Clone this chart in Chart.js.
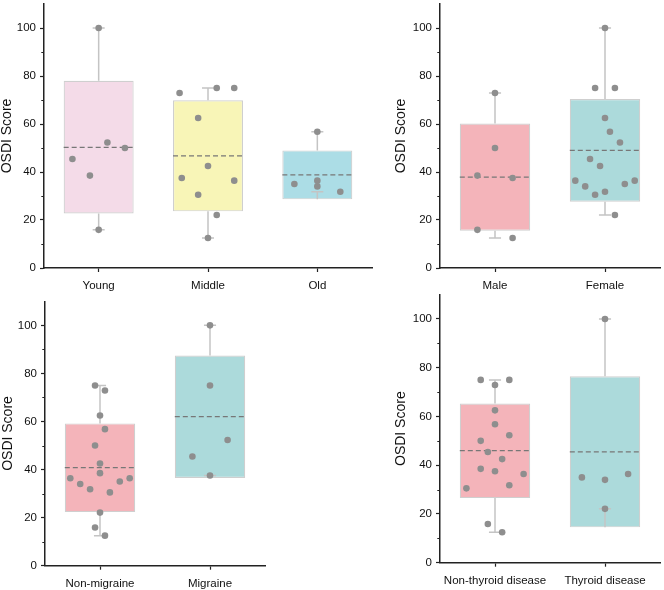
<!DOCTYPE html>
<html>
<head>
<meta charset="utf-8">
<script src="https://cdn.jsdelivr.net/npm/chart.js@4.4.1/dist/chart.umd.min.js"></script>
<style>
  html, body { margin: 0; padding: 0; background: #fff; }
  #wrap { position: relative; width: 664px; height: 590px; }
  canvas { position: absolute; }
</style>
</head>
<body>
<div id="wrap">
  <canvas id="c1" width="376" height="295" style="left:0;top:0"></canvas>
  <canvas id="c2" width="288" height="295" style="left:376px;top:0"></canvas>
  <canvas id="c3" width="376" height="300" style="left:0;top:290px"></canvas>
  <canvas id="c4" width="288" height="300" style="left:376px;top:290px"></canvas>
</div>
<script>
const yTicks = [0, 20, 40, 60, 80, 100];
const yMinor = [10, 30, 50, 70, 90];

// age groups
const ageGroups = ['Young', 'Middle', 'Old'];
const ageQ1 = [22.7, 23.6, 28.6];
const ageQ3 = [78.0, 69.9, 49.0];
const ageMean = [50.3, 46.7, 38.8];
const ageMin = [15.9, 12.5, 31.8];
const ageMax = [100, 75.0, 56.8];
const ageX = [0, -0.24, -0.08, 0.08, 0.24, 0, 0.74, 1.08, 1.24, 0.91, 0.76, 1.00, 0.91, 1.24, 1.08, 1.00, 1.79, 2.00, 2.00, 2.00, 2.21];
const ageY = [100, 45.4, 38.5, 52.3, 50.0, 15.9, 72.9, 75.0, 75.0, 62.5, 37.5, 42.5, 30.5, 36.4, 22.1, 12.5, 35.0, 36.4, 34.0, 56.8, 31.8];

// sex
const sexGroups = ['Male', 'Female'];
const sexQ1 = [15.5, 27.6];
const sexQ3 = [60.2, 70.4];
const sexMean = [37.9, 49.0];
const sexMin = [12.5, 22.1];
const sexMax = [72.9, 100];
const sexX = [0, 0, -0.16, 0.16, -0.16, 0.16, 1, 0.91, 1.09, 1, 1.045, 1.136, 0.864, 0.955, 0.73, 0.82, 0.91, 1, 1.18, 1.27, 1.09];
const sexY = [72.9, 50, 38.5, 37.5, 15.9, 12.5, 100, 75, 75, 62.5, 56.8, 52.3, 45.4, 42.5, 36.4, 34, 30.5, 31.8, 35, 36.4, 22.1];

// migraine
const migGroups = ['Non-migraine', 'Migraine'];
const migQ1 = [22.3, 36.5];
const migQ3 = [59.2, 87.4];
const migMean = [40.8, 62.0];
const migMin = [12.5, 37.5];
const migMax = [75, 100];
const migX = [-0.045, 0.045, 0, 0.045, -0.045, 0, 0, -0.27, -0.18, -0.09, 0.09, 0.18, 0.27, 0, -0.045, 0.045, 1, 1, 1.16, 0.84, 1];
const migY = [75, 72.9, 62.5, 56.8, 50, 42.5, 38.5, 36.4, 34, 31.8, 30.5, 35, 36.4, 22.1, 15.9, 12.5, 100, 75, 52.3, 45.4, 37.5];

// thyroid
const thyGroups = ['Non-thyroid disease', 'Thyroid disease'];
const thyQ1 = [26.5, 14.5];
const thyQ3 = [65.3, 76.5];
const thyMean = [46.0, 45.5];
const thyMin = [12.5, 22.1];
const thyMax = [75, 100];
const thyX = [-0.13, 0.13, 0, 0, 0, -0.13, 0.13, -0.065, 0.065, -0.13, 0, 0.26, 0.13, -0.26, -0.065, 0.065, 1, 0.79, 1, 1.21, 1];
const thyY = [75, 75, 72.9, 62.5, 56.8, 50, 52.3, 45.4, 42.5, 38.5, 37.5, 36.4, 31.8, 30.5, 15.9, 12.5, 100, 35, 34, 36.4, 22.1];

const pink = '#f4b4ba', teal = '#acdadb';
const font = "'Liberation Sans', Arial, sans-serif";

const minorTicks = {
  id: 'minorTicks',
  afterDraw(chart) {
    const s = chart.scales.y, ctx = chart.ctx;
    ctx.save();
    ctx.strokeStyle = '#222';
    ctx.lineWidth = 1;
    yMinor.forEach(v => {
      const y = Math.round(s.getPixelForValue(v)) + 0.5;
      ctx.beginPath();
      ctx.moveTo(s.right - 2.7, y);
      ctx.lineTo(s.right, y);
      ctx.stroke();
    });
    ctx.restore();
  }
};

function makeChart(id, groups, q1, q3, mean, lo, hi, px, py, colors, lay) {
  const cap = 0.055, half = 0.32;
  const whisk = [], means = [];
  groups.forEach((g, i) => {
    whisk.push({x: i, y: q3[i]}, {x: i, y: hi[i]}, {x: i, y: null});
    whisk.push({x: i - cap, y: hi[i]}, {x: i + cap, y: hi[i]}, {x: i, y: null});
    whisk.push({x: i, y: q1[i]}, {x: i, y: lo[i]}, {x: i, y: null});
    whisk.push({x: i - cap, y: lo[i]}, {x: i + cap, y: lo[i]}, {x: i, y: null});
    means.push({x: i - half, y: mean[i]}, {x: i + half, y: mean[i]}, {x: i, y: null});
  });

  new Chart(document.getElementById(id), {
    type: 'scatter',
    data: {
      datasets: [
        {
          type: 'bar',
          data: groups.map((g, i) => ({x: i, y: [q1[i], q3[i]]})),
          backgroundColor: colors,
          borderColor: '#cfcfcf',
          borderWidth: 1.2,
          borderSkipped: false,
          categoryPercentage: 1,
          barPercentage: 0.64,
          order: 4
        },
        {
          data: whisk,
          showLine: true,
          spanGaps: false,
          borderColor: '#c4c4c4',
          borderWidth: 1.5,
          pointRadius: 0,
          order: 3
        },
        {
          data: means,
          showLine: true,
          spanGaps: false,
          borderColor: '#777',
          borderWidth: 1.2,
          borderDash: [5, 3],
          pointRadius: 0,
          order: 2
        },
        {
          data: px.map((x, i) => ({x: x, y: py[i]})),
          backgroundColor: '#8e8e8e',
          borderWidth: 0,
          pointRadius: 3.3,
          order: 1
        }
      ]
    },
    options: {
      responsive: false,
      animation: false,
      layout: {padding: lay.pad},
      plugins: {legend: {display: false}, tooltip: {enabled: false}},
      scales: {
        x: {
          type: 'linear',
          offset: false,
          min: -0.5,
          max: groups.length - 0.5,
          afterBuildTicks: s => { s.ticks = groups.map((g, i) => ({value: i})); },
          afterFit: s => { s.height = lay.xh; s.paddingLeft = 0; s.paddingRight = 0; },
          ticks: {
            callback: v => groups[v],
            font: {family: font, size: 11.5},
            color: '#111',
            padding: 7,
            maxRotation: 0,
            autoSkip: false
          },
          grid: {offset: false, drawOnChartArea: false, tickLength: 4, tickColor: '#222', tickWidth: 1.2},
          border: {color: '#222', width: 1.5}
        },
        y: {
          min: 0,
          max: 110,
          afterBuildTicks: s => { s.ticks = yTicks.map(v => ({value: v})); },
          afterFit: s => { s.width = lay.yw; s.paddingTop = 0; s.paddingBottom = 0; },
          ticks: {
            font: {family: font, size: 11.5},
            color: '#111',
            padding: 4
          },
          title: {
            display: true,
            text: 'OSDI Score',
            font: {family: font, size: 14, lineHeight: 1},
            color: '#111',
            padding: 0
          },
          grid: {drawOnChartArea: false, tickLength: 4, tickColor: '#222', tickWidth: 1.2},
          border: {color: '#222', width: 1.5}
        }
      }
    },
    plugins: [minorTicks]
  });
}

makeChart('c1', ageGroups, ageQ1, ageQ3, ageMean, ageMin, ageMax, ageX, ageY,
  ['#f4dbe8', '#f8f5b7', '#acdde6'],
  {pad: {left: 0, right: 1, top: 2, bottom: 0}, yw: 44, xh: 27});
makeChart('c2', sexGroups, sexQ1, sexQ3, sexMean, sexMin, sexMax, sexX, sexY,
  [pink, teal],
  {pad: {left: 18, right: 4, top: 2, bottom: 0}, yw: 46, xh: 27});
makeChart('c3', migGroups, migQ1, migQ3, migMean, migMin, migMax, migX, migY,
  [pink, teal],
  {pad: {left: 1, right: 111, top: 11.3, bottom: 0}, yw: 44, xh: 24.3});
makeChart('c4', thyGroups, thyQ1, thyQ3, thyMean, thyMin, thyMax, thyX, thyY,
  [pink, teal],
  {pad: {left: 18, right: 2, top: 4.6, bottom: 0}, yw: 46, xh: 27.3});
</script>
</body>
</html>
